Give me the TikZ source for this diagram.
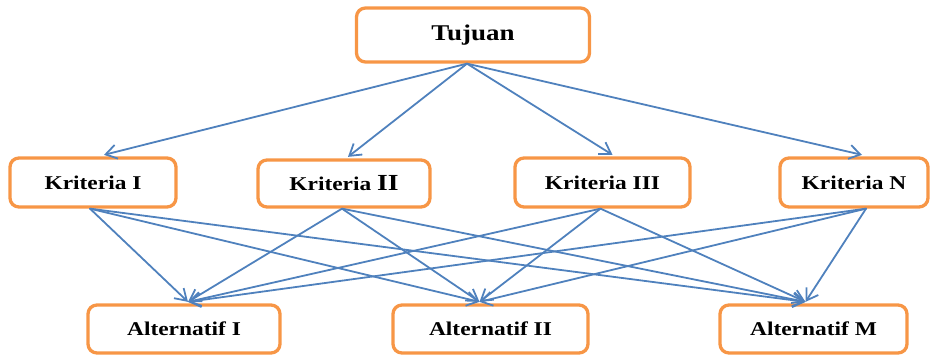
\documentclass[tikz,border=0pt]{standalone}
\usepackage{fontspec}
\setmainfont{Liberation Serif}[FakeStretch=1.2]
\usepackage{xcolor}
\usetikzlibrary{arrows.meta}
\definecolor{boxline}{HTML}{F79646}
\definecolor{linkblue}{HTML}{4F81BD}
\tikzset{
  LevelBox/.style={
    draw=boxline, line width=3.3pt,
    rounded corners=9pt, fill=white,
    inner sep=0pt,
    font=\bfseries\fontsize{19.5}{22}\selectfont
  },
  Link/.style={
    draw=linkblue, line width=1.8pt,
    -{Straight Barb[length=11pt,width=14pt]}
  }
}

\begin{document}
\begin{tikzpicture}[x=1pt, y=-1pt, line cap=round, line join=round]
  \useasboundingbox (0,0) rectangle (933,356);

  % Goal
  \node[LevelBox, minimum width=233pt, minimum height=54pt,
        font=\bfseries\fontsize{22.5}{24}\selectfont] (tujuan) at (473,35) {Tujuan};

  % Criteria
  \node[LevelBox, minimum width=166pt, minimum height=49pt] (k1) at (93,182.5) {Kriteria I};
  \node[LevelBox, minimum width=172pt, minimum height=47pt] (k2) at (344,183.5)
        {Kriteria {\fontsize{23}{24}\selectfont II}};
  \node[LevelBox, minimum width=175pt, minimum height=49pt] (k3) at (602.5,182.5) {Kriteria III};
  \node[LevelBox, minimum width=148pt, minimum height=49pt] (kn) at (854,182.5) {Kriteria N};

  % Alternatives
  \node[LevelBox, minimum width=192pt, minimum height=48pt] (a1) at (184,329) {Alternatif I};
  \node[LevelBox, minimum width=195pt, minimum height=48pt] (a2) at (490.5,329) {Alternatif II};
  \node[LevelBox, minimum width=187pt, minimum height=48pt] (am) at (813.5,329) {Alternatif M};

  % Goal -> criteria
  \foreach \k/\dx in {k1/11, k2/4, k3/10, kn/8}
    \draw[Link] ([xshift=-6pt]tujuan.south) -- ([xshift=\dx pt, yshift=1.5pt]\k.north);

  % Criteria -> alternatives
  \foreach \k/\dx in {k1/-3, k2/-2, k3/-2, kn/12}
    \foreach \a/\ex in {a1/4, a2/-11, am/-8}
      \draw[Link] ([xshift=\dx pt]\k.south) -- ([xshift=\ex pt, yshift=1.5pt]\a.north);
\end{tikzpicture}
\end{document}
